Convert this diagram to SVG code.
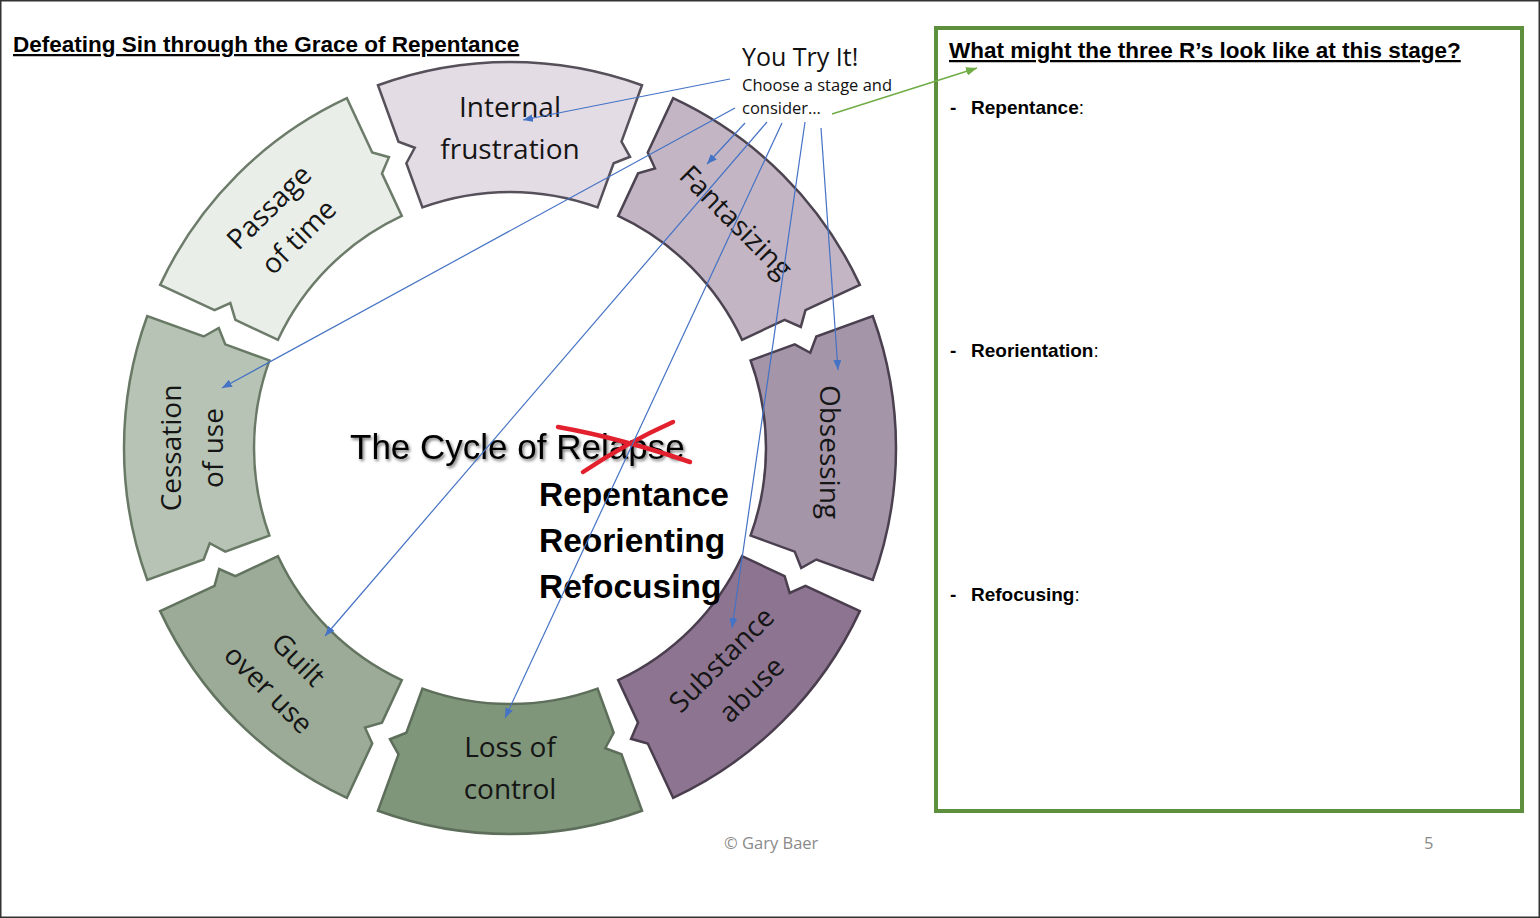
<svg xmlns="http://www.w3.org/2000/svg" width="1540" height="918" viewBox="0 0 1540 918">
<defs>
<style>
.seg{stroke-width:2.5;stroke-linejoin:miter}
.lbl{font-family:"Open Sans","Noto Sans",sans-serif;font-size:28px;fill:#151515;text-anchor:middle}
.b{font-family:"Liberation Sans",Arial,sans-serif;font-weight:bold;fill:#000}
.conn{stroke:#4472c4;stroke-width:1.2;fill:none}
.small{font-family:"Open Sans","Noto Sans",sans-serif;fill:#111}
</style>
<path id="seg" d="M-132.02,-362.72 A386,386 0 0 1 132.02,-362.72 L111.50,-306.34 L120.04,-291.23 L103.63,-284.73 L87.56,-240.56 A256,256 0 0 0 -87.56,-240.56 L-103.63,-284.73 L-95.25,-300.25 L-111.50,-306.34 Z"/>
<marker id="ab" viewBox="0 0 10 8" refX="10" refY="4" markerWidth="10" markerHeight="8" markerUnits="userSpaceOnUse" orient="auto"><path d="M0,0 L10,4 L0,8 Z" fill="#4472c4"/></marker>
<marker id="ag" viewBox="0 0 10 8" refX="10" refY="4" markerWidth="11" markerHeight="9" markerUnits="userSpaceOnUse" orient="auto"><path d="M0,0 L10,4 L0,8 Z" fill="#70ad47"/></marker>
<filter id="sh" x="-10%" y="-30%" width="120%" height="160%"><feDropShadow dx="1.5" dy="2" stdDeviation="1.6" flood-color="#000" flood-opacity="0.55"/></filter>
</defs>
<rect x="0.75" y="0.75" width="1538.5" height="916.5" fill="#fff" stroke="#333" stroke-width="1.5"/>

<text class="b" x="13" y="52" font-size="22.5" text-decoration="underline">Defeating Sin through the Grace of Repentance</text>

<g id="internal-frustration">
<use href="#seg" class="seg" fill="#e4dce5" stroke="#56505a" transform="translate(510,448)"/>
<text class="lbl" transform="translate(510,128)"><tspan x="0" y="-11">Internal</tspan><tspan x="0" y="31">frustration</tspan></text>
</g>
<g id="fantasizing">
<use href="#seg" class="seg" fill="#c3b5c4" stroke="#4c4450" transform="translate(510,448) rotate(45)"/>
<text class="lbl" transform="translate(736.3,221.7) rotate(45)"><tspan x="0" y="10">Fantasizing</tspan></text>
</g>
<g id="obsessing">
<use href="#seg" class="seg" fill="#a595a8" stroke="#4a4050" transform="translate(510,448) rotate(90)"/>
<text class="lbl" transform="translate(830,452) rotate(90)"><tspan x="0" y="10">Obsessing</tspan></text>
</g>
<g id="substance-abuse">
<use href="#seg" class="seg" fill="#8d7591" stroke="#4a3e4e" transform="translate(510,448) rotate(135)"/>
<text class="lbl" transform="translate(736.3,674.3) rotate(-45)"><tspan x="0" y="-11">Substance</tspan><tspan x="0" y="31">abuse</tspan></text>
</g>
<g id="loss-of-control">
<use href="#seg" class="seg" fill="#7f967b" stroke="#5d6e5a" transform="translate(510,448) rotate(180)"/>
<text class="lbl" transform="translate(510,768)"><tspan x="0" y="-11">Loss of</tspan><tspan x="0" y="31">control</tspan></text>
</g>
<g id="guilt-over-use">
<use href="#seg" class="seg" fill="#9bab97" stroke="#62735f" transform="translate(510,448) rotate(225)"/>
<text class="lbl" transform="translate(283.7,674.3) rotate(45)"><tspan x="0" y="-11">Guilt</tspan><tspan x="0" y="31">over use</tspan></text>
</g>
<g id="cessation-of-use">
<use href="#seg" class="seg" fill="#b7c3b4" stroke="#687a65" transform="translate(510,448) rotate(270)"/>
<text class="lbl" transform="translate(192,448) rotate(-90)"><tspan x="0" y="-11">Cessation</tspan><tspan x="0" y="31">of use</tspan></text>
</g>
<g id="passage-of-time">
<use href="#seg" class="seg" fill="#eaeee9" stroke="#6d7c6a" transform="translate(510,448) rotate(315)"/>
<text class="lbl" transform="translate(283.7,221.7) rotate(-45)"><tspan x="0" y="-11">Passage</tspan><tspan x="0" y="31">of time</tspan></text>
</g>

<g id="center-title">
<text x="350" y="459" font-family="'Liberation Sans',Arial,sans-serif" font-size="35" fill="#000" filter="url(#sh)">The Cycle of Relapse</text>
<path d="M558,427 Q620,438 690,462" stroke="#e3202e" stroke-width="4.5" fill="none" stroke-linecap="round"/>
<path d="M583,472 Q628,442 673,422" stroke="#e3202e" stroke-width="4.5" fill="none" stroke-linecap="round"/>
</g>
<g id="three-rs">
<text class="b" x="539" y="506" font-size="33.5">Repentance</text>
<text class="b" x="539" y="552" font-size="33.5">Reorienting</text>
<text class="b" x="539" y="598" font-size="33.5">Refocusing</text>
</g>

<g id="you-try-it">
<text class="small" x="742" y="66" font-size="25">You Try It!</text>
<text class="small" x="742" y="91" font-size="16.5">Choose a stage and</text>
<text class="small" x="742" y="114" font-size="16.5">consider…</text>
</g>

<g id="answer-box">
<rect x="936" y="28" width="586" height="783" fill="none" stroke="#5e8f3c" stroke-width="4"/>
<text class="b" x="949" y="58" font-size="22.5" text-decoration="underline">What might the three R’s look like at this stage?</text>
<text class="b" x="950" y="114" font-size="19" font-weight="normal">-</text>
<text class="b" x="971" y="114" font-size="19">Repentance<tspan font-weight="normal">:</tspan></text>
<text class="b" x="950" y="357" font-size="19" font-weight="normal">-</text>
<text class="b" x="971" y="357" font-size="19">Reorientation<tspan font-weight="normal">:</tspan></text>
<text class="b" x="950" y="601" font-size="19" font-weight="normal">-</text>
<text class="b" x="971" y="601" font-size="19">Refocusing<tspan font-weight="normal">:</tspan></text>
</g>

<g id="footer">
<text x="724" y="849" font-family="'Open Sans','Noto Sans',sans-serif" font-size="16.5" fill="#8a8a8a">© Gary Baer</text>
<text x="1424" y="849" font-family="'Open Sans','Noto Sans',sans-serif" font-size="16.5" fill="#8a8a8a">5</text>
</g>

<g id="connectors">
<line class="conn" x1="730" y1="79" x2="523" y2="120" marker-end="url(#ab)"/>
<line class="conn" x1="735" y1="108" x2="222" y2="388" marker-end="url(#ab)"/>
<line class="conn" x1="745" y1="123" x2="707" y2="164" marker-end="url(#ab)"/>
<line class="conn" x1="767" y1="122" x2="325" y2="636" marker-end="url(#ab)"/>
<line class="conn" x1="782" y1="123" x2="505" y2="718" marker-end="url(#ab)"/>
<line class="conn" x1="805" y1="122" x2="732" y2="628" marker-end="url(#ab)"/>
<line class="conn" x1="821" y1="128" x2="838" y2="370" marker-end="url(#ab)"/>
<line x1="832" y1="114" x2="977" y2="68" stroke="#70ad47" stroke-width="1.6" marker-end="url(#ag)"/>
</g>
</svg>
